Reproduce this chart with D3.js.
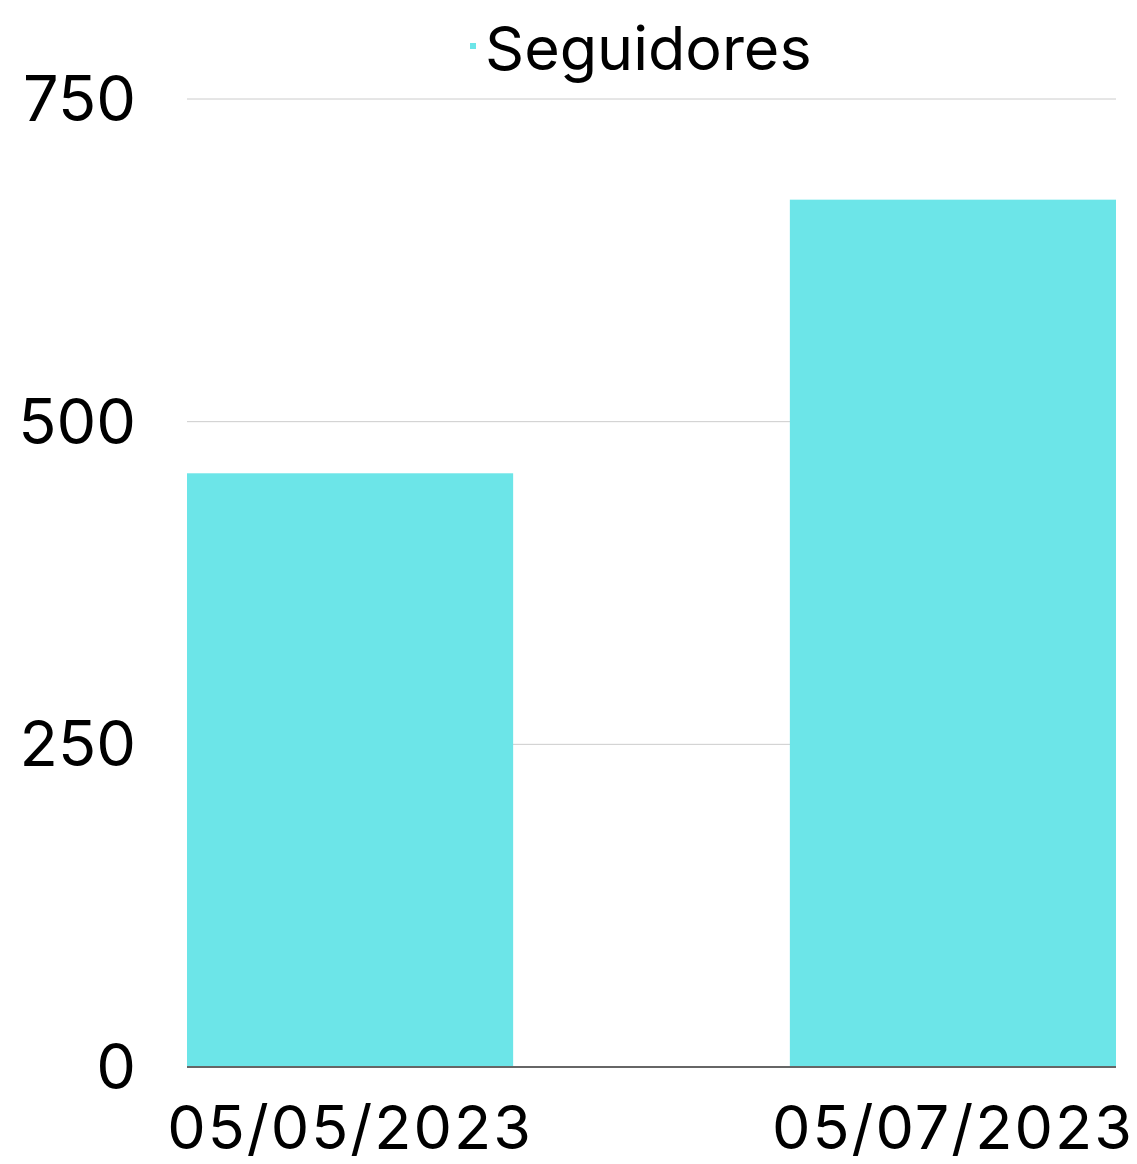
<!DOCTYPE html>
<html><head><meta charset="utf-8">
<script src="https://cdn.jsdelivr.net/npm/d3@7"></script>
<style>body{margin:0;background:#fff}</style>
</head><body>
<svg id="c" width="1137" height="1164"></svg>
<script>
const categories = ["05/05/2023", "05/07/2023"];
const seguidores = [460, 672];
const yTicks = [0, 250, 500, 750];
const seriesName = "Seguidores";

const svg = d3.select("#c");
const font = "Inter, 'DejaVu Sans', sans-serif";
const m = {left: 187, right: 1116, top: 99, bottom: 1067};
const x = d3.scaleBand().domain(categories).range([m.left, m.right]).paddingInner(0.459).paddingOuter(0);
const y = d3.scaleLinear().domain([0, 750]).range([m.bottom, m.top]);

svg.append("g").selectAll("line").data(yTicks.filter(d => d > 0)).join("line")
  .attr("x1", m.left).attr("x2", m.right)
  .attr("y1", d => y(d)).attr("y2", d => y(d))
  .attr("stroke", "#cccccc").attr("stroke-width", 1);

svg.append("g").selectAll("rect").data(seguidores).join("rect")
  .attr("x", (d, i) => x(categories[i])).attr("width", x.bandwidth())
  .attr("y", d => y(d)).attr("height", d => y(0) - y(d))
  .attr("fill", "#6ce5e8");

svg.append("line").attr("x1", m.left).attr("x2", m.right)
  .attr("y1", y(0)).attr("y2", y(0)).attr("stroke", "#666").attr("stroke-width", 2);

svg.append("g").selectAll("text").data(yTicks).join("text")
  .attr("x", 136).attr("y", d => y(d)).attr("dy", "0.35em")
  .attr("text-anchor", "end").attr("font-family", font).attr("font-size", 63)
  .attr("fill", "#000").text(d => d);

svg.append("g").selectAll("text").data(categories).join("text")
  .attr("x", d => x(d) + x.bandwidth() / 2).attr("y", 1149)
  .attr("text-anchor", "middle").attr("font-family", font).attr("font-size", 61)
  .attr("letter-spacing", 2)
  .attr("fill", "#000").text(d => d);

const lg = svg.append("g");
lg.append("rect").attr("x", 470).attr("y", 43).attr("width", 6).attr("height", 6).attr("fill", "#6ce5e8");
lg.append("text").attr("x", 485).attr("y", 70).attr("font-family", font).attr("font-size", 61)
  .attr("fill", "#000").text(seriesName);
</script>
</body></html>
